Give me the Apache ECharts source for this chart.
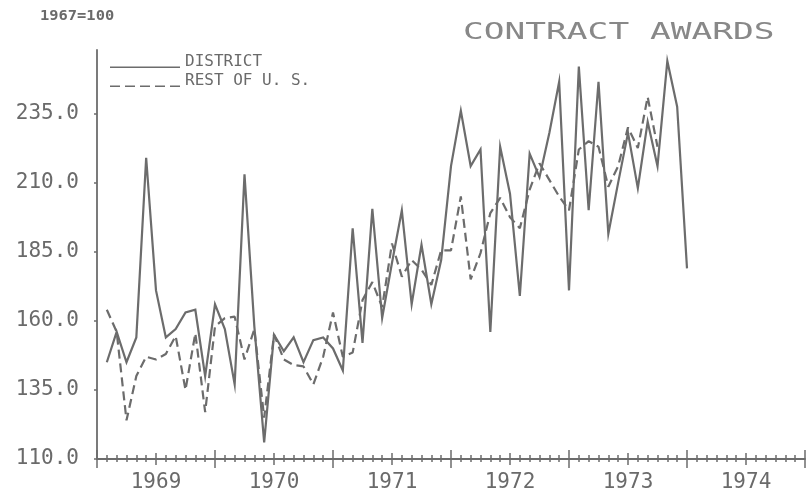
<!DOCTYPE html>
<html>
<head>
<meta charset="utf-8">
<script src="https://cdn.jsdelivr.net/npm/echarts@6/dist/echarts.min.js"></script>
<style>
html,body{margin:0;padding:0;background:#ffffff;}
#chart{width:809px;height:496px;}
</style>
</head>
<body>
<div id="chart"></div>
<script>
// ---- data (monthly index, 1967=100), months counted from Jan 1969 ----
const yearLabels = ['1969', '1970', '1971', '1972', '1973', '1974'];
const yTickValues = [110, 135, 160, 185, 210, 235];
const seriesNames = ['DISTRICT', 'REST OF U. S.'];
const district = [
  145, 156, 145, 154, 219, 171, 154, 157, 163, 164, 140, 166,
  157, 137, 213, 158, 116, 155, 149, 154, 145, 153, 154, 150,
  142, 193.5, 152, 200.5, 161, 181, 200, 166, 187.5, 166, 182, 216,
  236, 216, 222, 156, 223, 206, 169, 220.5, 212, 228, 246.5, 171,
  252, 200, 246.5, 191.5, 210, 228, 208, 232, 216, 254, 237.5, 179
];
const restOfUS = [
  164, 156, 124, 140, 147, 146, 148, 154.5, 135, 155.5, 127, 158,
  161, 161.5, 146, 157, 125, 155, 146, 144, 143.5, 137, 147, 163,
  147, 148.5, 167.5, 174, 165, 188, 176, 182, 178.5, 173, 185.5, 185.5,
  205, 175, 184.5, 199, 204.5, 197.5, 193.5, 207.5, 217, 211, 205, 200,
  222, 225, 223, 208.5, 216, 230, 222.5, 241, 223
];

// ---- styling ----
const GRAY = '#6c6c6c';
const TEXT = '#6a6a6a';
const MONO = '"DejaVu Sans Mono", "Liberation Mono", monospace';

const monthsTotal = yearLabels.length * 12;
const allMonths = Array.from({length: monthsTotal + 1}, (_, i) => i);
const midYears = yearLabels.map((_, k) => 6 + 12 * k);
const yearStarts = Array.from({length: yearLabels.length + 1}, (_, k) => 12 * k);

function tickAxis(values, len, inside) {
  return {
    type: 'value', min: 0, max: monthsTotal, position: 'bottom', gridIndex: 0,
    axisLine: {show: false}, axisLabel: {show: false}, splitLine: {show: false},
    axisTick: {show: true, customValues: values, length: len, inside: inside,
      lineStyle: {color: GRAY, width: 1.5}}
  };
}

const chart = echarts.init(document.getElementById('chart'), null, {renderer: 'canvas'});
chart.setOption({
  animation: false,
  backgroundColor: '#ffffff',
  grid: {left: 97, right: 4, top: 50, bottom: 37, containLabel: false, outerBoundsMode: 'none'},
  graphic: [
    {type: 'text', x: 463, y: 22, scaleX: 1.5, style: {text: 'CONTRACT AWARDS', font: '23px ' + MONO, fill: '#888888', verticalAlign: 'top'}},
    {type: 'text', x: 40, y: 9, scaleX: 1.1, style: {text: '1967=100', font: 'bold 14px ' + MONO, fill: TEXT, verticalAlign: 'top'}}
  ],
  legend: {
    orient: 'vertical', left: 110, top: 54, padding: 0, itemWidth: 70, itemHeight: 12, itemGap: 3,
    symbolKeepAspect: false,
    itemStyle: {borderWidth: 0},
    textStyle: {fontFamily: MONO, fontSize: 16, color: TEXT},
    data: [
      {name: seriesNames[0], icon: 'path://M0,0h0.01v0.01h-0.01z M0,10.4h70v1.6h-70z'},
      {name: seriesNames[1], icon: 'path://M0,0h0.01v0.01h-0.01z M0,10.4h10v1.6h-10z M15,10.4h10v1.6h-10z M30,10.4h10v1.6h-10z M45,10.4h10v1.6h-10z M60,10.4h10v1.6h-10z'}
    ]
  },
  xAxis: [
    {
      type: 'value', min: 0, max: monthsTotal, position: 'bottom', gridIndex: 0,
      axisLine: {show: true, lineStyle: {color: GRAY, width: 1.8}},
      axisTick: {show: true, customValues: allMonths, length: 3, lineStyle: {color: GRAY, width: 1.5}},
      axisLabel: {customValues: midYears, formatter: v => yearLabels[Math.round((v - 6) / 12)],
        fontFamily: MONO, fontSize: 21, color: TEXT, margin: 13},
      splitLine: {show: false}
    },
    tickAxis(allMonths, 4, true),
    tickAxis(midYears, 6, false),
    tickAxis(midYears, 6, true),
    tickAxis(yearStarts, 9, false),
    tickAxis(yearStarts, 9, true)
  ],
  yAxis: {
    type: 'value', min: 110, max: 258,
    axisLine: {show: true, lineStyle: {color: GRAY, width: 1.8}},
    axisTick: {show: true, customValues: yTickValues, length: 3, lineStyle: {color: GRAY, width: 1.5}},
    axisLabel: {customValues: yTickValues, formatter: v => v.toFixed(1),
      fontFamily: MONO, fontSize: 21, color: TEXT, margin: 18},
    splitLine: {show: false}
  },
  series: [
    {
      name: seriesNames[0], type: 'line', xAxisIndex: 0, symbol: 'none', z: 3,
      data: district.map((v, i) => [i + 1, v]),
      itemStyle: {color: GRAY},
      lineStyle: {color: GRAY, width: 2.2, join: 'miter'}
    },
    {
      name: seriesNames[1], type: 'line', xAxisIndex: 0, symbol: 'none', z: 2,
      data: restOfUS.map((v, i) => [i + 1, v]),
      itemStyle: {color: GRAY},
      lineStyle: {color: GRAY, width: 2.2, type: [9, 5]}
    }
  ]
});
</script>
</body>
</html>
